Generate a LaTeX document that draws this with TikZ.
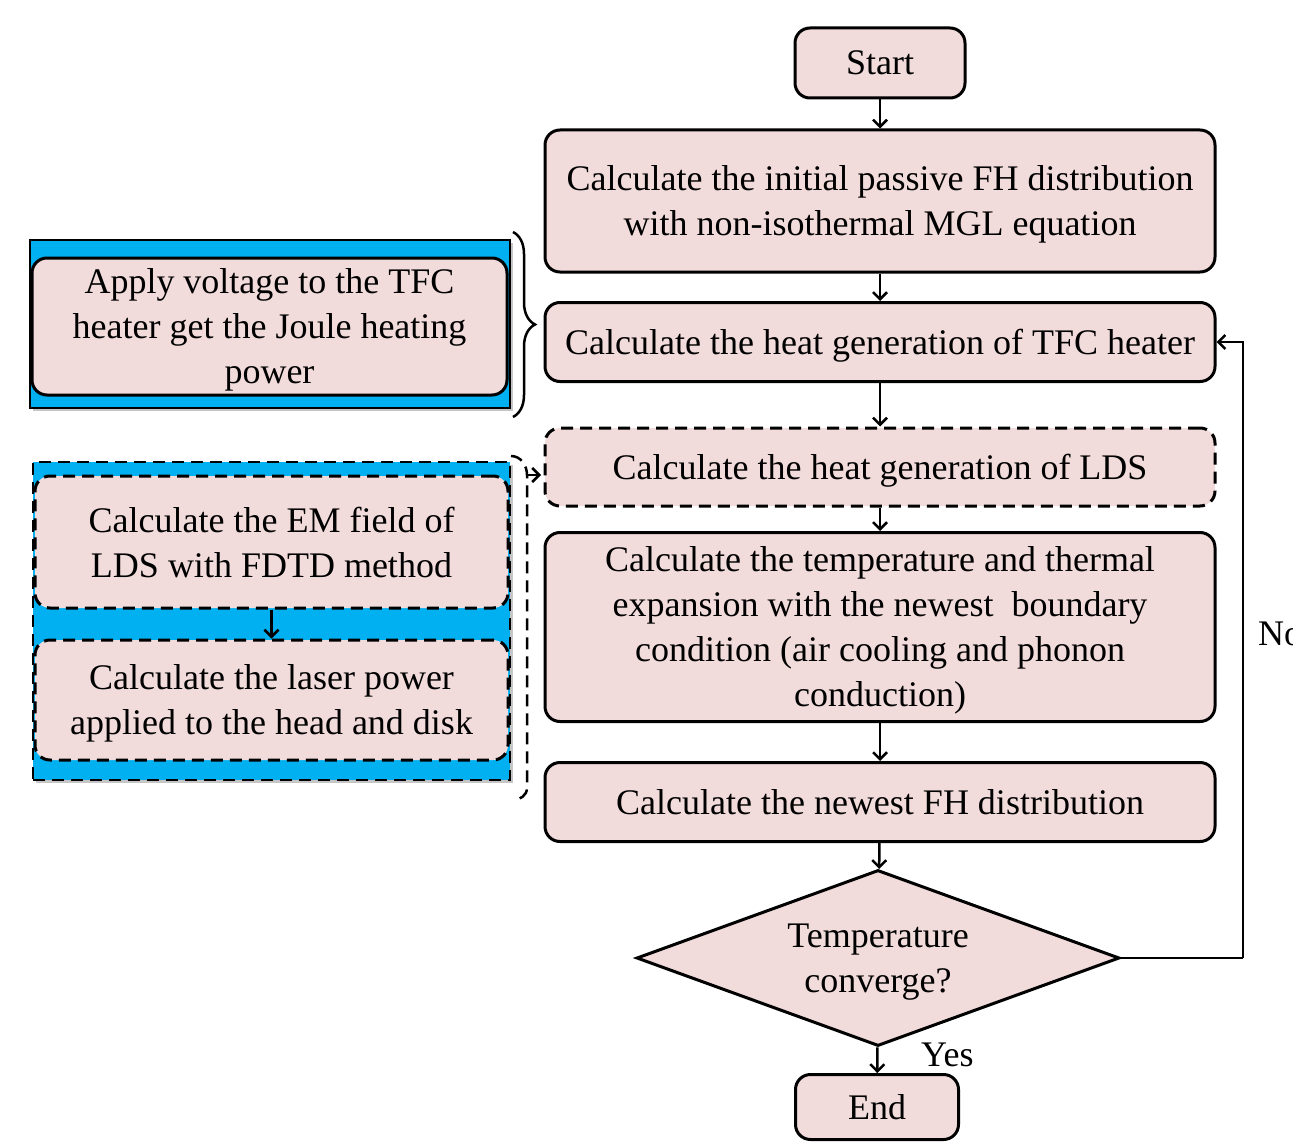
\documentclass[tikz,border=0pt]{standalone}
\usepackage{fontspec}
\setmainfont{Liberation Serif}
\usetikzlibrary{arrows.meta,shapes.geometric,decorations.pathreplacing,shadows}
\definecolor{boxpink}{RGB}{242,220,219}
\definecolor{panelblue}{RGB}{0,176,240}
\tikzset{
  stepbox/.style={draw,line width=3pt,rounded corners=15pt,fill=boxpink,
    align=center,inner sep=0pt,text depth=0pt,font=\fontsize{36}{45}\selectfont},
  dashbox/.style={stepbox,dash pattern=on 12pt off 7pt},
  panel/.style={draw,line width=2.5pt,fill=panelblue,inner sep=0pt,
    drop shadow={shadow xshift=3pt,shadow yshift=-3pt,fill=black!45}},
  decision/.style={draw,diamond,line width=3pt,fill=boxpink,align=center,
    inner sep=0pt,text depth=0pt,aspect=2.74,font=\fontsize{36}{45}\selectfont},
  flow/.style={->,line width=2.5pt},
  tag/.style={font=\fontsize{36}{40}\selectfont,inner sep=0pt}
}
\begin{document}
\begin{tikzpicture}[x=1pt,y=-1pt,>={Straight Barb[length=7pt,width=14pt]}]
  \useasboundingbox (0,0) rectangle (1293,1145);
  \node[stepbox,minimum width=170pt,minimum height=70pt] (start) at (880,63) {Start};
  \node[stepbox,minimum width=670pt,minimum height=142pt] (init) at (880,201)
    {Calculate the initial passive FH distribution\\with non-isothermal MGL equation};
  \node[stepbox,minimum width=670pt,minimum height=79pt] (tfc) at (880,342)
    {Calculate the heat generation of TFC heater};
  \node[dashbox,minimum width=670pt,minimum height=78pt] (lds) at (880,467)
    {Calculate the heat generation of LDS};
  \node[stepbox,minimum width=670pt,minimum height=189pt] (temp) at (880,627)
    {Calculate the temperature and thermal\\expansion with the newest\ \ boundary\\condition (air cooling and phonon\\conduction)};
  \node[stepbox,minimum width=670pt,minimum height=79pt] (fh) at (880,802)
    {Calculate the newest FH distribution};
  \node[decision,minimum width=483pt,minimum height=176pt] (conv) at (878,958)
    {Temperature\\converge?};
  \node[stepbox,minimum width=163pt,minimum height=65pt] (end) at (877,1107) {End};

  \node[panel,minimum width=480pt,minimum height=168pt] (heatpanel) at (270,324) {};
  \node[stepbox,minimum width=475pt,minimum height=137pt] (joule) at (269.5,326.5)
    {Apply voltage to the TFC\\heater get the Joule heating\\power};
  \node[panel,dash pattern=on 12pt off 7pt,minimum width=477pt,minimum height=318pt] (ldspanel) at (271.5,621) {};
  \node[dashbox,minimum width=473pt,minimum height=132pt] (em) at (271.5,542)
    {Calculate the EM field of\\LDS with FDTD method};
  \node[dashbox,minimum width=473pt,minimum height=120pt] (laser) at (271.5,700)
    {Calculate the laser power\\applied to the head and disk};

  \node[tag,anchor=base west] (yes) at (921,1066) {Yes};
  \node[tag,anchor=base west] (no) at (1258,645) {No};

  \begin{scope}[flow]
    \draw (start) to (init);
    \draw (init) to (tfc);
    \draw (tfc) to (lds);
    \draw (lds) to (temp);
    \draw (temp) to (fh);
    \draw (fh) to (conv);
    \draw (conv) to (end);
    \draw (em) to (laser);
    \draw[-] (conv.east) -- (1243,958) coordinate (back);
    \draw (back) |- (tfc.east);
  \end{scope}

  \draw[decorate,decoration={brace,amplitude=22pt},line width=2.5pt]
    (513,232) coordinate (bracetop) -- (513,417) coordinate (bracebot);
  \coordinate (ldsbend) at (527,475);
  \coordinate (ldsin) at (541,475);
  \draw[line width=2.5pt,dash pattern=on 12pt off 7pt]
    (511,456) to[out=0,in=90] (ldsbend) -- (527,788) to[out=-90,in=0] (513,800);
  \draw[flow] (ldsbend) -- (ldsin);
\end{tikzpicture}
\end{document}
